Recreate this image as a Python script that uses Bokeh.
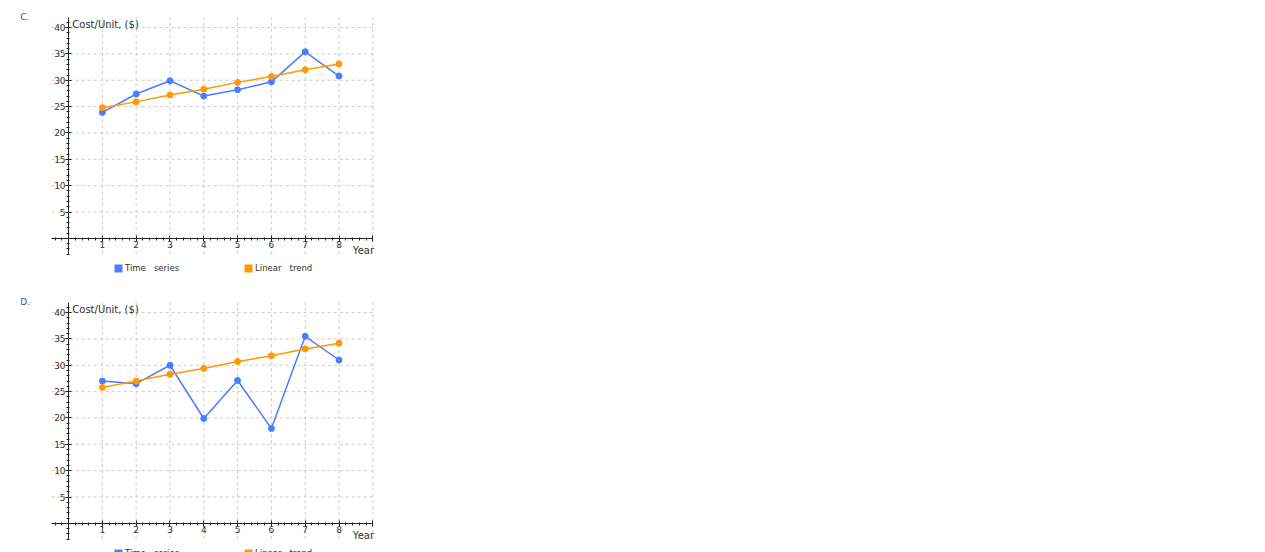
import numpy as np
from bokeh.plotting import figure
from bokeh.layouts import column
from bokeh.models import FixedTicker, Label, Legend, LegendItem, ColumnDataSource
from bokeh.embed import file_html
from bokeh.resources import INLINE

# data
years = [1, 2, 3, 4, 5, 6, 7, 8]
series_c = [23.9, 27.4, 29.9, 27.0, 28.2, 29.7, 35.4, 30.8]
trend_c = [24.8, 25.9, 27.2, 28.3, 29.6, 30.7, 32.0, 33.1]
series_d = [27.0, 26.5, 30.0, 19.9, 27.1, 18.0, 35.5, 31.0]
trend_d = [25.8, 27.0, 28.3, 29.4, 30.7, 31.8, 33.1, 34.2]

x_ticks = [0, 1, 2, 3, 4, 5, 6, 7, 8, 9]
y_ticks = [0, 5, 10, 15, 20, 25, 30, 35, 40]

BLUE = "#4d7cfe"
ORANGE = "#ff9900"
FONT = "DejaVu Sans"

# visible extent of the axes; the frame is a bit larger so that the
# panel letter and the legend fit inside it
X_BOUNDS = (-0.5, 9.0)
Y_BOUNDS = (-3, 42)


def make_panel(letter, series, trend):
    p = figure(width=382, height=285, x_range=(-1.6, 9.05), y_range=(-8, 44),
               output_backend="svg", toolbar_location=None,
               min_border_left=14, min_border_right=8,
               min_border_top=6, min_border_bottom=5)
    p.outline_line_color = None
    p.background_fill_color = "white"
    p.grid.visible = False

    # dashed grid, limited to the axes' extent
    gx = x_ticks[1:]
    gy = y_ticks[1:]
    p.segment(x0=gx, x1=gx, y0=[Y_BOUNDS[0]] * len(gx), y1=[Y_BOUNDS[1]] * len(gx),
              line_color="#cccccc", line_dash="3 3", line_width=1)
    p.segment(x0=[X_BOUNDS[0]] * len(gy), x1=[X_BOUNDS[1]] * len(gy), y0=gy, y1=gy,
              line_color="#cccccc", line_dash="3 3", line_width=1)

    # axes crossing at the origin
    p.xaxis.fixed_location = 0
    p.yaxis.fixed_location = 0
    p.xaxis.bounds = X_BOUNDS
    p.yaxis.bounds = Y_BOUNDS
    p.xaxis.ticker = FixedTicker(ticks=x_ticks,
                                 minor_ticks=[round(v, 2) for v in np.arange(-0.4, 9.01, 0.2)])
    p.yaxis.ticker = FixedTicker(ticks=y_ticks, minor_ticks=list(range(-3, 42)))
    p.xaxis.major_label_overrides = {0: "", 9: ""}
    p.yaxis.major_label_overrides = {0: ""}
    for ax in (p.xaxis, p.yaxis):
        ax.axis_line_color = "#222222"
        ax.axis_line_width = 1
        ax.major_tick_line_color = "#222222"
        ax.minor_tick_line_color = "#222222"
        ax.major_tick_in = 3
        ax.major_tick_out = 3
        ax.minor_tick_in = 1
        ax.minor_tick_out = 2
        ax.major_label_text_font = FONT
        ax.major_label_text_font_size = "9px"
        ax.major_label_text_color = "#333333"
    p.xaxis.major_label_standoff = 0
    p.yaxis.major_label_standoff = 0

    src_s = ColumnDataSource(dict(x=years, y=series))
    src_t = ColumnDataSource(dict(x=years, y=trend))
    p.line("x", "y", source=src_s, color=BLUE, line_width=1.5)
    p.scatter("x", "y", source=src_s, color=BLUE, size=6)
    p.line("x", "y", source=src_t, color=ORANGE, line_width=1.5)
    p.scatter("x", "y", source=src_t, color=ORANGE, size=6)

    # legend swatches (a single NaN row, so only the legend shows them)
    sw_src = ColumnDataSource(dict(l=[np.nan], r=[np.nan], t=[np.nan], b=[np.nan]))
    sw_s = p.quad(left="l", right="r", top="t", bottom="b", source=sw_src,
                  fill_color=BLUE, line_color=None)
    sw_t = p.quad(left="l", right="r", top="t", bottom="b", source=sw_src,
                  fill_color=ORANGE, line_color=None)
    legend = Legend(items=[LegendItem(label="Time   series", renderers=[sw_s]),
                           LegendItem(label="Linear   trend", renderers=[sw_t])],
                    orientation="horizontal", location=(99, 7),
                    border_line_color=None, background_fill_alpha=0,
                    padding=0, margin=0, spacing=64,
                    glyph_width=10, glyph_height=10, label_standoff=2,
                    label_height=10, label_text_font=FONT,
                    label_text_font_size="8.5px", label_text_color="#333333")
    p.add_layout(legend)

    p.add_layout(Label(x=0.11, y=40.6, text="Cost/Unit,  ($)", text_font=FONT,
                       text_font_size="10px", text_color="#333333",
                       text_baseline="middle"))
    p.add_layout(Label(x=8.41, y=-1.3, text="Year", text_font=FONT,
                       text_font_size="10px", text_color="#333333",
                       text_baseline="top"))
    p.add_layout(Label(x=-1.43, y=42.1, text=letter, text_font=FONT,
                       text_font_size="9px", text_color="#3355aa",
                       text_baseline="middle"))
    return p


p = column(make_panel("C.", series_c, trend_c),
           make_panel("D.", series_d, trend_d), spacing=0)

open("out.html", "w").write(file_html(p, INLINE))
